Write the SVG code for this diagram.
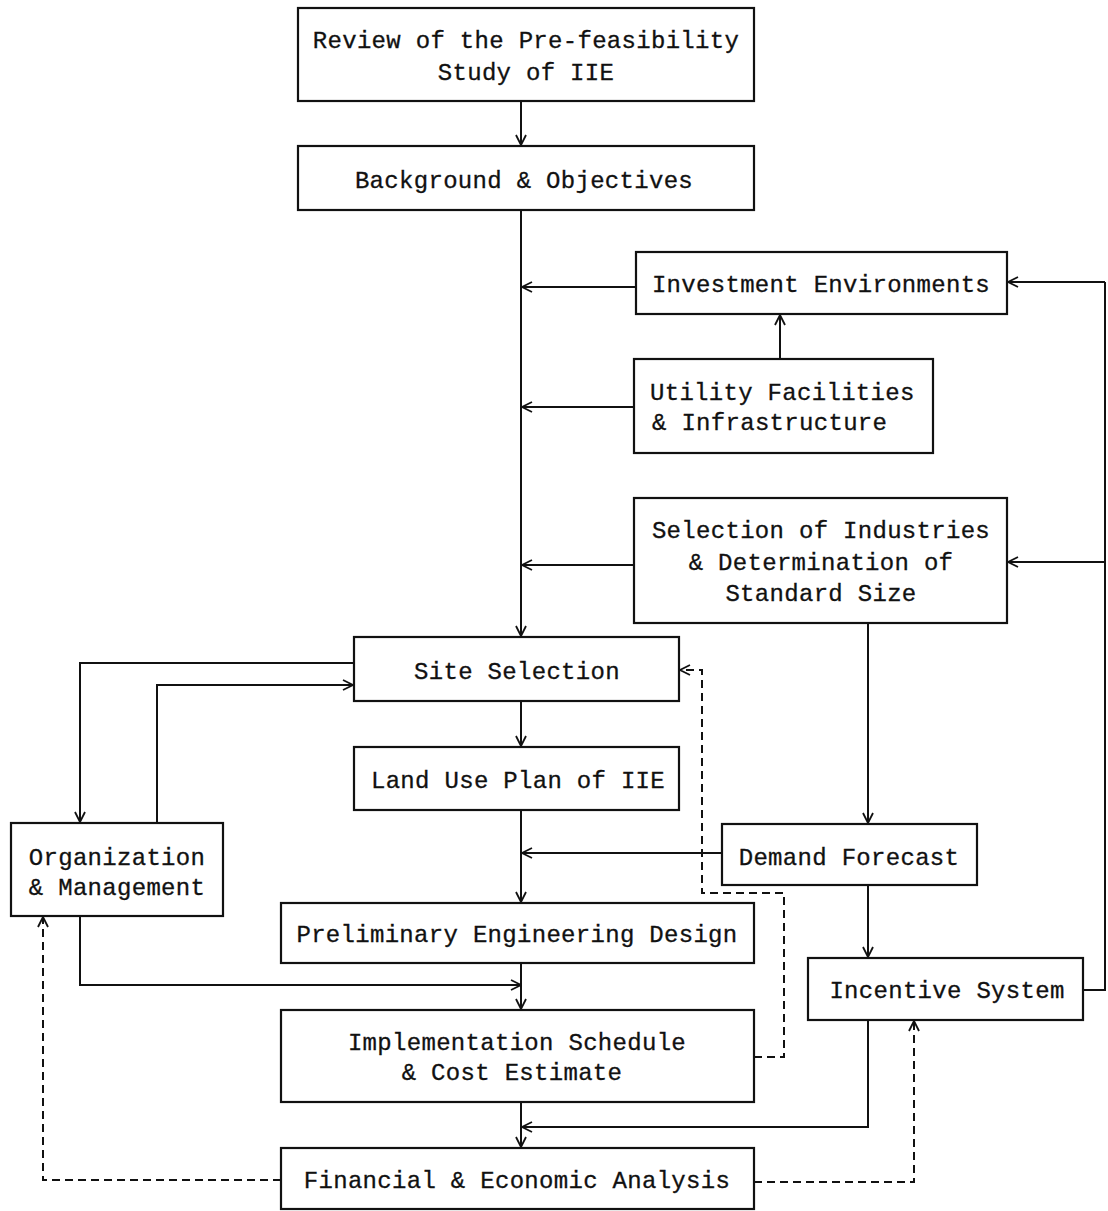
<svg xmlns="http://www.w3.org/2000/svg" width="1108" height="1211" viewBox="0 0 1108 1211">
<defs>
<marker id="ah" viewBox="0 0 12 12" refX="11" refY="6" markerWidth="12" markerHeight="12" markerUnits="userSpaceOnUse" orient="auto">
<path d="M1,1 L11,6 L1,11" fill="none" stroke="#111" stroke-width="1.8"/>
</marker>
<style>
.nd rect{fill:#fff;stroke:#111;stroke-width:2.2}
text{font-family:"Liberation Mono","DejaVu Sans Mono",monospace;font-size:24px;letter-spacing:0.3px;fill:#111;text-anchor:middle;stroke:#111;stroke-width:0.3}
.c path,.c line,.c polyline{fill:none;stroke:#111;stroke-width:2;marker-end:url(#ah)}
.c .d{stroke-dasharray:8,5}
.c .n{marker-end:none}
</style>
</defs>
<rect width="1108" height="1211" style="fill:#fff;stroke:none"/>
<g class="nd" id="n-review"><rect x="298" y="8" width="456" height="93"/><text x="526" y="48">Review of the Pre-feasibility</text><text x="526" y="80">Study of IIE</text></g>
<g class="nd" id="n-background"><rect x="298" y="146" width="456" height="64"/><text x="524" y="188">Background &amp; Objectives</text></g>
<g class="nd" id="n-investment"><rect x="636" y="252" width="371" height="62"/><text x="821" y="292">Investment Environments</text></g>
<g class="nd" id="n-utility"><rect x="634" y="359" width="299" height="94"/><text x="650" y="400" style="text-anchor:start">Utility Facilities</text><text x="652" y="430" style="text-anchor:start">&amp; Infrastructure</text></g>
<g class="nd" id="n-selection"><rect x="634" y="498" width="373" height="125"/><text x="821" y="538">Selection of Industries</text><text x="821" y="570">&amp; Determination of</text><text x="821" y="601">Standard Size</text></g>
<g class="nd" id="n-site"><rect x="354" y="637" width="325" height="64"/><text x="517" y="679">Site Selection</text></g>
<g class="nd" id="n-landuse"><rect x="354" y="747" width="325" height="63"/><text x="518" y="788">Land Use Plan of IIE</text></g>
<g class="nd" id="n-demand"><rect x="722" y="824" width="255" height="61"/><text x="849" y="865">Demand Forecast</text></g>
<g class="nd" id="n-org"><rect x="11" y="823" width="212" height="93"/><text x="117" y="865">Organization</text><text x="117" y="895">&amp; Management</text></g>
<g class="nd" id="n-prelim"><rect x="281" y="903" width="473" height="60"/><text x="517" y="942">Preliminary Engineering Design</text></g>
<g class="nd" id="n-incentive"><rect x="808" y="958" width="275" height="62"/><text x="947" y="998">Incentive System</text></g>
<g class="nd" id="n-impl"><rect x="281" y="1010" width="473" height="92"/><text x="517" y="1050">Implementation Schedule</text><text x="512" y="1080">&amp; Cost Estimate</text></g>
<g class="nd" id="n-financial"><rect x="281" y="1148" width="473" height="61"/><text x="517" y="1188">Financial &amp; Economic Analysis</text></g>
<g class="c" id="connectors">
<line x1="521" y1="101" x2="521" y2="145"/>
<line x1="521" y1="210" x2="521" y2="636"/>
<line x1="636" y1="287" x2="522" y2="287"/>
<line x1="780" y1="359" x2="780" y2="315"/>
<line x1="634" y1="407" x2="522" y2="407"/>
<line x1="634" y1="565" x2="522" y2="565"/>
<polyline class="n" points="1083,990 1105,990 1105,282"/>
<line x1="1105" y1="282" x2="1008" y2="282"/>
<line x1="1105" y1="562" x2="1008" y2="562"/>
<line x1="521" y1="701" x2="521" y2="746"/>
<line x1="521" y1="810" x2="521" y2="902"/>
<line x1="722" y1="853" x2="522" y2="853"/>
<line x1="868" y1="623" x2="868" y2="823"/>
<line x1="868" y1="885" x2="868" y2="957"/>
<line x1="521" y1="963" x2="521" y2="1009"/>
<line x1="521" y1="1102" x2="521" y2="1147"/>
<polyline points="868,1020 868,1127 522,1127"/>
<polyline points="354,663 80,663 80,822"/>
<polyline points="157,823 157,685 353,685"/>
<polyline points="80,916 80,985 521,985"/>
<polyline class="d" points="281,1180 43,1180 43,917"/>
<polyline class="d" points="754,1182 914,1182 914,1021"/>
<polyline class="d" points="754,1057 784,1057 784,893 702,893 702,670 680,670"/>
</g>
</svg>
